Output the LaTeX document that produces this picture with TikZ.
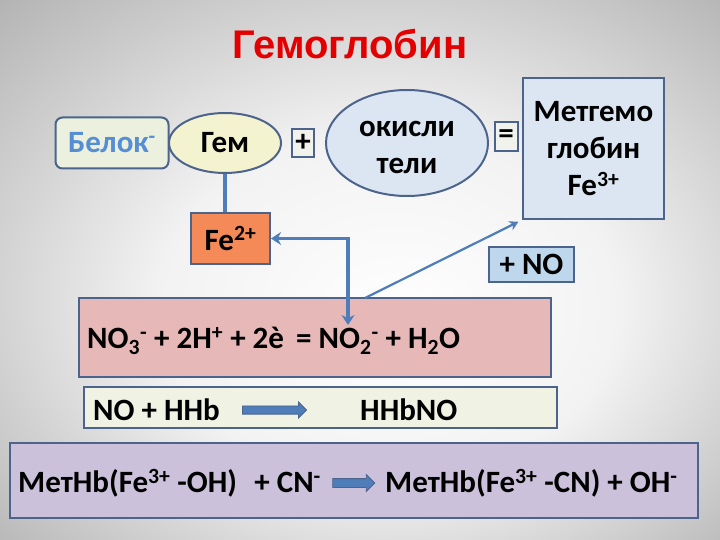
\documentclass[tikz,border=0pt]{standalone}
\usepackage{fontspec}
\setmainfont{Carlito}
\newfontfamily\titlefont{Liberation Sans}
\usetikzlibrary{arrows.meta,shapes.geometric,shapes.arrows}
\definecolor{edgeblue}{RGB}{76,100,140}
\definecolor{lineblue}{RGB}{79,125,185}
\definecolor{titlered}{RGB}{228,0,0}
\definecolor{belokfill}{RGB}{235,241,222}
\definecolor{beloktext}{RGB}{85,142,213}
\definecolor{gemfill}{RGB}{243,243,208}
\definecolor{paleblue}{RGB}{220,230,242}
\definecolor{nofill}{RGB}{190,215,236}
\definecolor{fefill}{RGB}{244,138,88}
\definecolor{pinkfill}{RGB}{230,185,184}
\definecolor{creamfill}{RGB}{240,242,228}
\definecolor{lilacfill}{RGB}{204,193,218}
\definecolor{signfill}{RGB}{242,242,236}
\pgfdeclareradialshading{slidebg}{\pgfpoint{3bp}{-5bp}}{color(0bp)=(white); color(16bp)=(black!5); color(50bp)=(black!45)}

\begin{document}
\begin{tikzpicture}[x=1pt, y=-1pt, >=Stealth,
  every node/.style={font=\bfseries\fontsize{31}{37}\selectfont, inner sep=0pt},
  bx/.style={draw=edgeblue, line width=2pt},
  link/.style={draw=lineblue, line width=3.5pt},
  thinlink/.style={draw=lineblue, line width=2.2pt},
  blockarrow/.style={single arrow, draw=edgeblue, fill=lineblue, line width=0.8pt,
    inner sep=3.7pt, single arrow head extend=4pt, single arrow head indent=0pt}]
\useasboundingbox (0,0) rectangle (720,540);
\shade[shading=slidebg] (0,0) rectangle (720,540);

\node[font=\titlefont\bfseries\fontsize{40}{48}\selectfont, text=titlered] (title) at (350,44) {Гемоглобин};

\node[bx, rounded corners=7pt, fill=belokfill, minimum width=113pt, minimum height=51pt, text=beloktext] (belok) at (112,143) {Белок\textsuperscript{-}};
\node[bx, ellipse, fill=gemfill, minimum width=112pt, minimum height=60pt] (gem) at (225,143) {Гем};
\node[bx, fill=signfill, minimum width=22pt, minimum height=28pt] (plus) at (303,143) {+};
\node[bx, ellipse, fill=paleblue, minimum width=162pt, minimum height=106pt, align=center] (oxid) at (407,143) {};
\node[align=center] (oxidtext) at (407,147) {окисли\\тели};
\node[bx, fill=signfill, minimum width=23pt, minimum height=29pt] (equal) at (506,137) {=};
\node[bx, fill=paleblue, minimum width=141pt, minimum height=141pt, align=center] (metgb) at (593.5,148.5) {Метгемо\\глобин\\Fe\textsuperscript{3+}};
\node[bx, fill=fefill, minimum width=79pt, minimum height=51pt] (fe) at (230.5,238.5) {Fe\textsuperscript{2+}};
\node[bx, fill=nofill, minimum width=85pt, minimum height=35pt] (plusno) at (531.5,264.5) {+ NO};

\node[bx, fill=pinkfill, minimum width=472pt, minimum height=79pt] (redox) at (315,337.5) {};
\node[anchor=west] (redoxtext) at (87,341) {NO\textsubscript{3}\textsuperscript{-} + 2H\textsuperscript{+} + 2è\, = NO\textsubscript{2}\textsuperscript{-} + H\textsubscript{2}O};

\node[bx, fill=creamfill, minimum width=473pt, minimum height=41pt] (nitro) at (320.5,407.5) {};
\node[anchor=west] (nohhb) at (93,410) {NO + HHb};
\node[blockarrow, minimum height=64pt] (arrowa) at (272.5,410) {};
\node[anchor=west] (hhbno) at (360,410) {HHbNO};

\node[bx, fill=lilacfill, minimum width=688pt, minimum height=75pt] (cyan) at (354,480.5) {};
\node[anchor=west] (methoh) at (18,483) {МетHb(Fe\textsuperscript{3+} -OH)\,\, + CN\textsuperscript{-}};
\node[blockarrow, minimum height=42pt, inner sep=4pt] (arrowb) at (351.5,483) {};
\node[anchor=west] (metcn) at (385,483) {МетHb(Fe\textsuperscript{3+} -CN) + OH\textsuperscript{-}};

\coordinate (down) at (348,325);
\coordinate (rise) at (365,298);
\draw[link] (gem.south) -- (gem.south |- fe.north);
\draw[link, {Stealth[length=10pt,width=13pt]}-{Stealth[length=10pt,width=13pt]}] (fe.east) -| (down);
\draw[thinlink, -{Stealth[length=9pt,width=10pt]}, shorten >=4pt] (rise) -- (metgb.south west);
\end{tikzpicture}
\end{document}
